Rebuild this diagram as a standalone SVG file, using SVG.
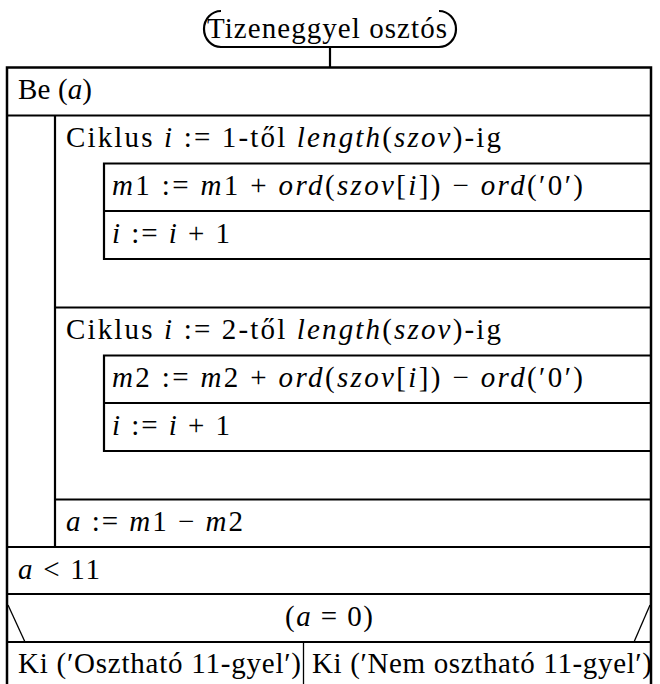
<svg xmlns="http://www.w3.org/2000/svg" width="660" height="684" viewBox="0 0 660 684">
<style>
.i{font-style:italic}
.frame{fill:none;stroke:#000;stroke-width:2.5}
.ln{fill:none;stroke:#000;stroke-width:2.2}
.thin{fill:none;stroke:#000;stroke-width:1.3}
</style>
<rect width="660" height="684" fill="#fff"/>
<g id="start">
<path class="ln" d="M221,11 A17,18 0 0 0 221,47 L439,47 A17,18 0 0 0 439,11"/>
<text font-family="Liberation Serif" font-size="29" x="207" y="38" textLength="240" lengthAdjust="spacing">Tizeneggyel oszt&#xF3;s</text>
</g>
<g id="connectors">
<line class="ln" x1="330" y1="47" x2="330" y2="67.5"/>
</g>
<g id="frame">
<path class="frame" d="M7,684 L7,67.5 L651,67.5 L651,684"/>
</g>
<g id="be">
<line class="ln" x1="7" y1="115.5" x2="651" y2="115.5"/>
<text font-family="Liberation Serif" font-size="29" x="18" y="99" textLength="74" lengthAdjust="spacing">Be (<tspan class="i">a</tspan>)</text>
</g>
<g id="loop1">
<line class="ln" x1="55" y1="115.5" x2="55" y2="547"/>
<text font-family="Liberation Serif" font-size="29" x="66" y="147" textLength="435" lengthAdjust="spacing">Ciklus <tspan class="i">i</tspan> := 1-t&#x151;l <tspan class="i">length</tspan>(<tspan class="i">szov</tspan>)-ig</text>
</g>
<g id="body1a">
<path class="ln" d="M651,163.5 L104,163.5 L104,259 L651,259"/>
<text font-family="Liberation Serif" font-size="29" x="112" y="195" textLength="471" lengthAdjust="spacing"><tspan class="i">m</tspan>1 := <tspan class="i">m</tspan>1 + <tspan class="i">ord</tspan>(<tspan class="i">szov</tspan>[<tspan class="i">i</tspan>]) &#x2212; <tspan class="i">ord</tspan>(&#x2032;0&#x2032;)</text>
</g>
<g id="body1b">
<line class="ln" x1="104" y1="211" x2="651" y2="211"/>
<text font-family="Liberation Serif" font-size="29" x="112" y="243" textLength="118" lengthAdjust="spacing"><tspan class="i">i</tspan> := <tspan class="i">i</tspan> + 1</text>
</g>
<g id="loop2">
<line class="ln" x1="55" y1="307.5" x2="651" y2="307.5"/>
<text font-family="Liberation Serif" font-size="29" x="66" y="339" textLength="435" lengthAdjust="spacing">Ciklus <tspan class="i">i</tspan> := 2-t&#x151;l <tspan class="i">length</tspan>(<tspan class="i">szov</tspan>)-ig</text>
</g>
<g id="body2a">
<path class="ln" d="M651,355.5 L104,355.5 L104,451 L651,451"/>
<text font-family="Liberation Serif" font-size="29" x="112" y="387" textLength="471" lengthAdjust="spacing"><tspan class="i">m</tspan>2 := <tspan class="i">m</tspan>2 + <tspan class="i">ord</tspan>(<tspan class="i">szov</tspan>[<tspan class="i">i</tspan>]) &#x2212; <tspan class="i">ord</tspan>(&#x2032;0&#x2032;)</text>
</g>
<g id="body2b">
<line class="ln" x1="104" y1="403" x2="651" y2="403"/>
<text font-family="Liberation Serif" font-size="29" x="112" y="435" textLength="118" lengthAdjust="spacing"><tspan class="i">i</tspan> := <tspan class="i">i</tspan> + 1</text>
</g>
<g id="assign">
<line class="ln" x1="55" y1="499.5" x2="651" y2="499.5"/>
<text font-family="Liberation Serif" font-size="29" x="66" y="531" textLength="177" lengthAdjust="spacing"><tspan class="i">a</tspan> := <tspan class="i">m</tspan>1 &#x2212; <tspan class="i">m</tspan>2</text>
</g>
<g id="cond1">
<line class="ln" x1="7" y1="547" x2="651" y2="547"/>
<text font-family="Liberation Serif" font-size="29" x="18" y="579" textLength="82" lengthAdjust="spacing"><tspan class="i">a</tspan> &lt; 11</text>
</g>
<g id="branch">
<line class="ln" x1="7" y1="594" x2="651" y2="594"/>
<line class="thin" x1="8" y1="605" x2="25" y2="642"/>
<line class="thin" x1="650" y1="605" x2="634" y2="642"/>
<text font-family="Liberation Serif" font-size="29" x="285" y="626" textLength="88" lengthAdjust="spacing">(<tspan class="i">a</tspan> = 0)</text>
</g>
<g id="yes">
<line class="ln" x1="7" y1="642" x2="651" y2="642"/>
<line class="thin" x1="303.5" y1="642" x2="303.5" y2="684"/>
<text font-family="Liberation Serif" font-size="29" x="18" y="673" textLength="283" lengthAdjust="spacing">Ki (&#x2032;Oszthat&#xF3; 11-gyel&#x2032;)</text>
</g>
<g id="no">
<text font-family="Liberation Serif" font-size="29" x="312" y="673" textLength="340" lengthAdjust="spacing">Ki (&#x2032;Nem oszthat&#xF3; 11-gyel&#x2032;)</text>
</g>
</svg>
